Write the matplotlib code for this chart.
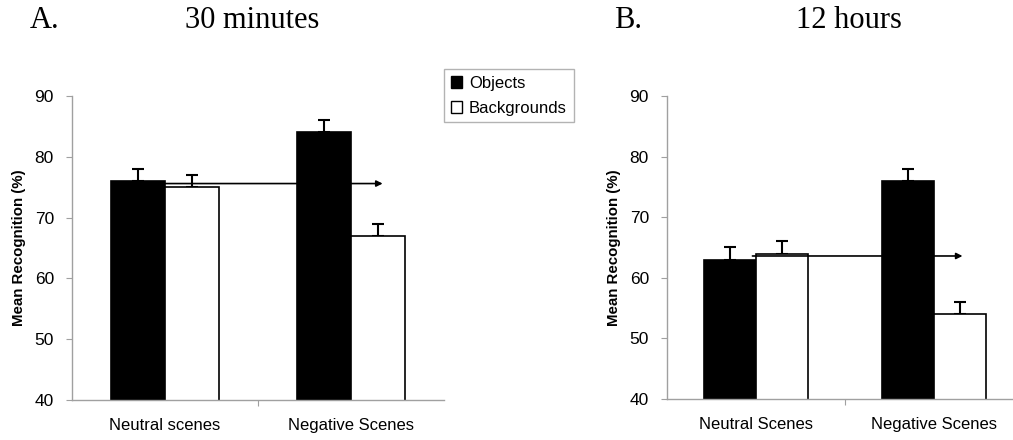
import matplotlib
matplotlib.use('Agg')
import matplotlib.pyplot as plt
from matplotlib.patches import Patch

plt.rcParams['font.family'] = ['Liberation Sans', 'DejaVu Sans']

# data
cats_a = ['Neutral scenes', 'Negative Scenes']
cats_b = ['Neutral Scenes', 'Negative Scenes']
obj_a = [76, 84]
bg_a = [75, 67]
obj_err_a = [2, 2]
bg_err_a = [2, 2]
obj_b = [63, 76]
bg_b = [64, 54]
obj_err_b = [2, 2]
bg_err_b = [2, 2]
arrow_a = [0.0, 1.17, 75.6]   # x start, x end, level
arrow_b = [-0.02, 1.16, 63.6]
series = ['Objects', 'Backgrounds']

fig = plt.figure(figsize=(10.13, 4.4), dpi=100)
ax1 = fig.add_axes([72/1013, 40/440, 372/1013, 304/440])
ax2 = fig.add_axes([667/1013, 41/440, 356/1013, 303/440])

w = 0.29
grey = '#a0a0a0'

def panel(ax, cats, obj, bg, oe, be, arr):
    x = [0, 1]
    xo = [i - w/2 for i in x]
    xb = [i + w/2 for i in x]
    ax.bar(xo, obj, w, bottom=0, color='black', edgecolor='black', linewidth=1.2, zorder=2)
    ax.bar(xb, bg, w, color='white', edgecolor='black', linewidth=1.2, zorder=2)
    ax.errorbar(xo, obj, yerr=[[0, 0], oe], fmt='none', ecolor='black', elinewidth=1.5,
                capsize=4, capthick=1.5, zorder=1)
    ax.errorbar(xb, bg, yerr=[[0, 0], be], fmt='none', ecolor='black', elinewidth=1.5,
                capsize=4, capthick=1.5, zorder=1)
    ax.annotate('', xy=(arr[1], arr[2]), xytext=(arr[0], arr[2]),
                arrowprops=dict(arrowstyle='-|>', color='black', lw=1.2,
                                mutation_scale=9, shrinkA=0, shrinkB=0), zorder=3)
    ax.set_xlim(-0.5, 1.5)
    ax.set_ylim(40, 90)
    ax.set_yticks([40, 50, 60, 70, 80, 90])
    ax.set_xticks([0.5])
    ax.set_xticklabels([''])
    ax.set_xticks(x, minor=True)
    ax.set_xticklabels(cats, minor=True, fontsize=12)
    ax.tick_params(axis='x', which='minor', length=0, pad=13)
    ax.tick_params(axis='x', which='major', length=4, color=grey, direction='out')
    ax.tick_params(axis='y', length=4, color=grey, labelsize=12.5, pad=9)
    for s in ['top', 'right']:
        ax.spines[s].set_visible(False)
    for s in ['left', 'bottom']:
        ax.spines[s].set_color(grey)
        ax.spines[s].set_linewidth(1)
    ax.set_ylabel('Mean Recognition (%)', fontsize=10.8, fontweight='bold', labelpad=6)

panel(ax1, cats_a, obj_a, bg_a, obj_err_a, bg_err_a, arrow_a)
panel(ax2, cats_b, obj_b, bg_b, obj_err_b, bg_err_b, arrow_b)

serif = ['Liberation Serif', 'DejaVu Serif']
fig.text(30/1013, 1 - 21/440, 'A.', family=serif, fontsize=22, va='center')
fig.text(252/1013, 1 - 21/440, '30 minutes', family=serif, fontsize=22, va='center', ha='center')
fig.text(614/1013, 1 - 21/440, 'B.', family=serif, fontsize=22, va='center')
fig.text(849/1013, 1 - 21/440, '12 hours', family=serif, fontsize=22, va='center', ha='center')

handles = [Patch(facecolor='black', edgecolor='black', label=series[0]),
           Patch(facecolor='white', edgecolor='black', label=series[1])]
leg = fig.legend(handles=handles, loc='upper left', bbox_to_anchor=(444/1013, 1 - 69/440),
                 fontsize=12, frameon=True, fancybox=False, handlelength=0.7, handleheight=0.7,
                 handletextpad=0.4, borderpad=0.4, labelspacing=0.6, borderaxespad=0)
leg.get_frame().set_edgecolor(grey)
leg.get_frame().set_linewidth(1)

plt.savefig('out.png', dpi=100)
